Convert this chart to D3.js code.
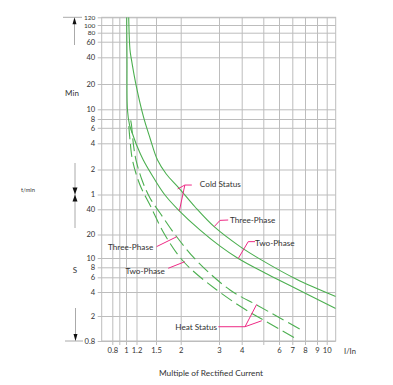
<!DOCTYPE html>
<html><head><meta charset="utf-8">
<script src="https://cdn.jsdelivr.net/npm/d3@7"></script>
<style>
body{margin:0;background:#fff}
svg{display:block}
text{font-family:Lato,"Open Sans",sans-serif;fill:#333}
</style>
</head><body><svg id="c" width="393" height="385"></svg>
<script>
// ---- data ----
const xGridValues=[0.8,0.9,1,1.2,1.5,2,3,4,5,6,7,8,9,10];
const xTickValues=[0.8,1,1.2,1.5,2,3,4,6,7,8,9,10];
const xTickLabels=["0.8","1","1.2","1.5","2","3","4","6","7","8","9","10"];
// y values in seconds (upper part labelled in minutes)
const yTickSeconds=[7200,6000,4800,3600,2400,1200,600,480,360,240,120,60,40,20,10,8,6,4,2,0.8];
const yTickLabels=["120","100","80","60","40","20","10","8","6","4","2","1","40","20","10","8","6","4","2","0.8"];

// Cold status, three-phase (solid)
const coldThreeX=[1.048,1.072,1.10,1.19,1.30,1.40,1.527,1.69,1.95,2.33,2.85,3.92,4.92,7.28,11];
const coldThreeT=[7200,2900,2240,1170,503,276,154,106,72.8,42.6,24.8,14.0,9.5,5.72,3.51];
// Cold status, two-phase (solid)
const coldTwoX=[1.012,1.018,1.026,1.063,1.116,1.207,1.297,1.483,1.665,1.95,2.45,3.04,3.83,5.10,6.81,11];
const coldTwoT=[7200,2240,590,395,312,223,154,89.6,59.2,39.2,22.7,14.2,9.88,6.79,4.78,2.48];
// Heat status, three-phase (dashed)
const heatThreeX=[1.085,1.10,1.139,1.19,1.278,1.40,1.572,1.908,2.40,3.45,4.67,6.07,7.85];
const heatThreeT=[460,395,229,154,89.6,54.5,36.1,18.7,9.08,4.23,2.75,1.86,1.15];
// Heat status, two-phase (dashed)
const heatTwoX=[1.05,1.072,1.119,1.249,1.40,1.665,2.09,2.93,4.07,5.0,7.46];
const heatTwoT=[380,262,154,78,45,19.7,8.87,4.23,2.5,1.73,0.83];

// annotation labels (data coordinates)
const labelText=["Cold Status","Three-Phase","Two-Phase","Three-Phase","Two-Phase","Heat Status"];
const labelX=[2.45,3.45,4.59,1.454,1.665,2.94];
const labelT=[80.3,29.6,15.6,13.8,7.09,1.35];
const labelAnchor=["start","start","start","end","end","end"];
// leader polylines (data coordinates)
const leaders=[
  [[2.25,78],[2.09,78],[1.93,70]],
  [[2.09,78],[1.97,38.5]],
  [[3.37,29.8],[3.04,29.5],[2.85,24.8]],
  [[4.59,16.2],[4.28,16.2],[3.83,9.9]],
  [[1.512,14.0],[1.908,18.7]],
  [[1.73,7.78],[2.09,9.15]],
  [[2.98,1.35],[4.14,1.35],[4.67,2.8]],
  [[4.14,1.35],[4.92,1.68]]
];

// ---- scales ----
const x=d3.scaleLog()
  .domain([0.7,0.8,0.9,1,1.2,1.5,2,3,4,5,6,7,8,9,10,11])
  .range([101.7,112.3,119.3,126,136.5,156,180.7,219,241.7,263.3,279,292.3,305,317,326.7,335.7]);
const y=d3.scaleLog()
  .domain(yTickSeconds)
  .range([17.3,25,32.7,41.7,57.3,84,109.3,119,127.8,143.3,169.5,194.5,209.3,234.5,258,267.3,277.3,292,316,341]);

const L=x(0.7),R=x(11),T=y(7200),B=y(0.8);
const svg=d3.select("#c");
const GRID="#bdbdbd", GREEN="#4caf50", PINK="#ee2a85";
const FONT="Lato,'Open Sans',sans-serif";

// grid via axes
const gx=svg.append("g").attr("transform",`translate(0,${B+4})`)
  .call(d3.axisBottom(x).tickValues(xGridValues).tickSizeInner(-(B+4-T)).tickSizeOuter(0).tickFormat(""));
gx.select(".domain").remove();
gx.selectAll("line").attr("stroke",GRID).attr("stroke-width",1);

const gy=svg.append("g").attr("transform",`translate(${L-4},0)`)
  .call(d3.axisLeft(y).tickValues(yTickSeconds).tickSizeInner(-(R-L+4)).tickSizeOuter(0).tickFormat(""));
gy.select(".domain").remove();
gy.selectAll("line").attr("stroke",GRID).attr("stroke-width",1);

svg.append("rect").attr("x",L).attr("y",T).attr("width",R-L).attr("height",B-T)
  .attr("fill","none").attr("stroke",GRID).attr("stroke-width",1);

// tick labels
const ax=svg.append("g").attr("transform",`translate(0,${B})`)
  .call(d3.axisBottom(x).tickValues(xTickValues).tickSize(0).tickPadding(6.5)
    .tickFormat((d,i)=>xTickLabels[i]));
ax.select(".domain").remove();
ax.selectAll("text").attr("font-size",7.6).attr("font-family",FONT).attr("fill","#333");

const ay=svg.append("g").attr("transform",`translate(${L},0)`)
  .call(d3.axisLeft(y).tickValues(yTickSeconds).tickSize(0).tickPadding(6.5)
    .tickFormat((d,i)=>yTickLabels[i]));
ay.select(".domain").remove();
ay.selectAll("text").attr("font-family",FONT).attr("fill","#333")
  .attr("font-size",(d,i)=>{
    const p=y(d);
    const gapUp=i>0?p-y(yTickSeconds[i-1]):99;
    const gapDn=i<yTickSeconds.length-1?y(yTickSeconds[i+1])-p:99;
    return Math.min(gapUp,gapDn)<8.5?6.5:7.6;
  });

// clip
svg.append("clipPath").attr("id","plot").append("rect")
  .attr("x",L).attr("y",T).attr("width",R-L).attr("height",B-T);

const line=d3.line().x(d=>x(d[0])).y(d=>y(d[1])).curve(d3.curveCatmullRom.alpha(0.5));
const zip=(a,b)=>a.map((v,i)=>[v,b[i]]);
const curves=[
  {d:zip(coldThreeX,coldThreeT),dash:null},
  {d:zip(coldTwoX,coldTwoT),dash:null},
  {d:zip(heatThreeX,heatThreeT),dash:"13,5"},
  {d:zip(heatTwoX,heatTwoT),dash:"13,5"}
];
const cg=svg.append("g").attr("clip-path","url(#plot)");
curves.forEach(c=>{
  cg.append("path").attr("d",line(c.d)).attr("fill","none")
    .attr("stroke",GREEN).attr("stroke-width",1.1)
    .attr("stroke-dasharray",c.dash);
});

// leaders
const lline=d3.line().x(d=>x(d[0])).y(d=>y(d[1]));
leaders.forEach(p=>{
  svg.append("path").attr("d",lline(p)).attr("fill","none")
    .attr("stroke",PINK).attr("stroke-width",1);
});
labelText.forEach((t,i)=>{
  svg.append("text").attr("x",x(labelX[i])).attr("y",y(labelT[i]))
    .attr("dy","0.35em").attr("text-anchor",labelAnchor[i])
    .attr("font-size",8.2).text(t);
});

// axis decorations
const ARROW="#aaa";
svg.append("line").attr("x1",63).attr("x2",82).attr("y1",T).attr("y2",T).attr("stroke",ARROW);
svg.append("line").attr("x1",74.5).attr("x2",74.5).attr("y1",T+5).attr("y2",45).attr("stroke",ARROW);
svg.append("path").attr("d",`M72.5,${T+7}L76.5,${T+7}L74.5,${T}Z`).attr("fill","#111");
const M=y(60);
svg.append("line").attr("x1",75).attr("x2",75).attr("y1",163).attr("y2",228).attr("stroke",ARROW);
svg.append("path").attr("d",`M72.5,${M-7}L77.5,${M-7}L75,${M}Z M72.5,${M+7}L77.5,${M+7}L75,${M}Z`).attr("fill","#111");
svg.append("line").attr("x1",65).attr("x2",83).attr("y1",B).attr("y2",B).attr("stroke",ARROW);
svg.append("line").attr("x1",75.5).attr("x2",75.5).attr("y1",308).attr("y2",B-5).attr("stroke",ARROW);
svg.append("path").attr("d",`M73.5,${B-7}L77.5,${B-7}L75.5,${B}Z`).attr("fill","#111");

// axis titles
svg.append("text").attr("x",72).attr("y",93).attr("dy","0.35em").attr("text-anchor","middle").attr("font-size",8).text("Min");
svg.append("text").attr("x",75).attr("y",270).attr("dy","0.35em").attr("text-anchor","middle").attr("font-size",8).text("S");
svg.append("text").attr("x",28).attr("y",190).attr("dy","0.35em").attr("text-anchor","middle").attr("font-size",5.8).text("t/min");
svg.append("text").attr("x",350).attr("y",B+10).attr("dy","0.35em").attr("text-anchor","middle").attr("font-size",7.6).text("I/In");
svg.append("text").attr("x",211).attr("y",373).attr("dy","0.35em").attr("text-anchor","middle").attr("font-size",8.3).text("Multiple of Rectified Current");
</script>
</body></html>
